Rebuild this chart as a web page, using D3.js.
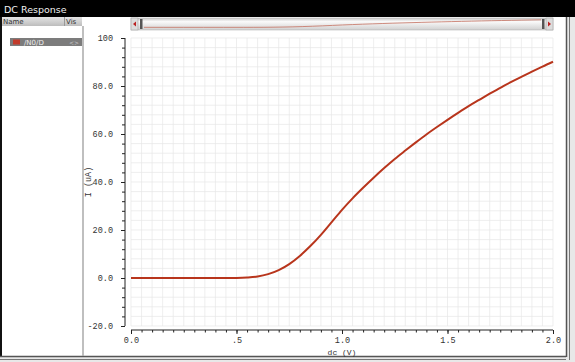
<!DOCTYPE html>
<meta charset="utf-8">
<style>
body { margin: 0; background: #fff; }
svg { display: block; }
.tick text { font-family: "Liberation Mono", "DejaVu Sans Mono", monospace; font-size: 8.5px; fill: #333; }
.axis path, .axis line { stroke: #222; }
.grid line { stroke: #e6e6e6; stroke-width: 0.7px; }
.grid path { display: none; }
</style>
<body>
<svg width="575" height="362" id="chart"></svg>
<script src="https://d3js.org/d3.v7.min.js"></script>
<script>

// (Vgs sweep, drain current)
var dcV = [0, 0.1, 0.2, 0.3, 0.4, 0.5, 0.55, 0.6, 0.65, 0.7, 0.75, 0.8, 0.85, 0.9, 0.95,
           1.0, 1.05, 1.1, 1.15, 1.2, 1.25, 1.3, 1.35, 1.4, 1.45, 1.5, 1.55, 1.6, 1.65,
           1.7, 1.75, 1.8, 1.85, 1.9, 1.95, 2.0];
var idUA = [0, 0, 0, 0, 0, 0.05, 0.2, 0.6, 1.6, 3.3, 5.8, 9.2, 13.3, 18, 23.2,
            28.4, 33.2, 37.6, 41.8, 45.8, 49.6, 53.1, 56.5, 59.8, 62.9, 65.9, 68.8, 71.6, 74.2,
            76.8, 79.2, 81.6, 83.8, 86, 88.1, 90.1];
var xTicks = [0, 0.5, 1.0, 1.5, 2.0];
var xTickLabels = ["0.0", ".5", "1.0", "1.5", "2.0"];
var yTicks = [-20, 0, 20, 40, 60, 80, 100];
var yTickLabels = ["-20.0", "0.0", "20.0", "40.0", "60.0", "80.0", "100"];
var traceName = "/N0/D";

var svg = d3.select("svg");

var x = d3.scaleLinear().domain([0, 2]).range([131, 553]);
var y = d3.scaleLinear().domain([-20, 100]).range([326, 38]);

// window frame
svg.append("rect").attr("x", 0).attr("y", 0).attr("width", 575).attr("height", 17).attr("fill", "#000");
svg.append("text").attr("x", 4).attr("y", 12.5)
    .attr("font-family", "DejaVu Sans, sans-serif").attr("font-size", 9.5).attr("fill", "#f2f2f2")
    .text("DC Response");
svg.append("rect").attr("x", 0).attr("y", 17).attr("width", 2).attr("height", 339).attr("fill", "#111");
svg.append("rect").attr("x", 0).attr("y", 356).attr("width", 575).attr("height", 6).attr("fill", "#e8e8e8");
svg.append("line").attr("x1", 0).attr("x2", 575).attr("y1", 356.5).attr("y2", 356.5).attr("stroke", "#555").attr("stroke-width", 1.5);
svg.append("line").attr("x1", 0).attr("x2", 575).attr("y1", 359.5).attr("y2", 359.5).attr("stroke", "#777");
svg.append("rect").attr("x", 566).attr("y", 17).attr("width", 9).attr("height", 345).attr("fill", "#e8e8e8");
svg.append("line").attr("x1", 566.5).attr("x2", 566.5).attr("y1", 17).attr("y2", 357).attr("stroke", "#555").attr("stroke-width", 1.5);
svg.append("line").attr("x1", 569.5).attr("x2", 569.5).attr("y1", 17).attr("y2", 360).attr("stroke", "#777");

// left panel
var grad = svg.append("defs").append("linearGradient").attr("id", "hdr").attr("x1", 0).attr("x2", 0).attr("y1", 0).attr("y2", 1);
grad.append("stop").attr("offset", 0).attr("stop-color", "#e4e4e4");
grad.append("stop").attr("offset", 1).attr("stop-color", "#bdbdbd");
svg.append("rect").attr("x", 2).attr("y", 17).attr("width", 80).attr("height", 9).attr("fill", "url(#hdr)");
svg.append("line").attr("x1", 64.5).attr("x2", 64.5).attr("y1", 17).attr("y2", 26).attr("stroke", "#999");
svg.append("text").attr("x", 3).attr("y", 24).attr("font-family", "DejaVu Sans, sans-serif").attr("font-size", 7).attr("fill", "#333").text("Name");
svg.append("text").attr("x", 66).attr("y", 24).attr("font-family", "DejaVu Sans, sans-serif").attr("font-size", 7).attr("fill", "#333").text("Vis");
svg.append("rect").attr("x", 10).attr("y", 38).attr("width", 72).attr("height", 8).attr("fill", "#7c7c7c");
svg.append("rect").attr("x", 13).attr("y", 39.5).attr("width", 7).attr("height", 5).attr("fill", "#c23a2a");
svg.append("text").attr("x", 24).attr("y", 45).attr("font-family", "DejaVu Sans, sans-serif").attr("font-size", 7).attr("fill", "#eee").text(traceName);
svg.append("text").attr("x", 69).attr("y", 45).attr("font-family", "DejaVu Sans, sans-serif").attr("font-size", 6).attr("fill", "#ccc").text("<>");
svg.append("line").attr("x1", 83).attr("x2", 83).attr("y1", 26).attr("y2", 356).attr("stroke", "#aaa").attr("stroke-width", 1.5);

// overview scroll bar
var sg = svg.append("defs").append("linearGradient").attr("id", "trk").attr("x1", 0).attr("x2", 0).attr("y1", 0).attr("y2", 1);
sg.append("stop").attr("offset", 0).attr("stop-color", "#c8c8c8");
sg.append("stop").attr("offset", 0.3).attr("stop-color", "#fafafa");
sg.append("stop").attr("offset", 1).attr("stop-color", "#d0d0d0");
svg.append("rect").attr("x", 131).attr("y", 18).attr("width", 422).attr("height", 12).attr("fill", "url(#trk)").attr("stroke", "#aaa").attr("stroke-width", 0.5);
var ox = d3.scaleLinear().domain([0, 2]).range([144, 541]);
var oy = d3.scaleLinear().domain([-20, 100]).range([29, 19]);
svg.append("path").datum(dcV)
    .attr("fill", "none").attr("stroke", "#c47060").attr("stroke-width", 0.8)
    .attr("d", d3.line().x(function(d) { return ox(d); }).y(function(d, i) { return oy(idUA[i]); }));
[131, 546].forEach(function(bx) {
    svg.append("rect").attr("x", bx).attr("y", 18).attr("width", 7).attr("height", 12).attr("fill", "#ddd").attr("stroke", "#999").attr("stroke-width", 0.5);
});
svg.append("path").attr("d", "M136,21.5 L133,24 L136,26.5 Z").attr("fill", "#b22");
svg.append("path").attr("d", "M548,21.5 L551,24 L548,26.5 Z").attr("fill", "#b22");
[140, 542].forEach(function(hx) {
    svg.append("rect").attr("x", hx).attr("y", 19).attr("width", 2.5).attr("height", 10).attr("fill", "#555");
});

// grid
var minorX = d3.range(0, 2.0001, 0.05);
var minorY = d3.range(-20, 100.0001, 4);
svg.append("g").attr("class", "grid")
    .selectAll("line").data(minorX).enter().append("line")
    .attr("x1", function(d) { return x(d); }).attr("x2", function(d) { return x(d); })
    .attr("y1", 38).attr("y2", 326);
svg.append("g").attr("class", "grid")
    .selectAll("line").data(minorY).enter().append("line")
    .attr("y1", function(d) { return y(d); }).attr("y2", function(d) { return y(d); })
    .attr("x1", 131).attr("x2", 553);

// axes
var yAxis = svg.append("g").attr("class", "axis").attr("transform", "translate(125,0)")
    .call(d3.axisLeft(y).tickValues(yTicks).tickSize(4).tickPadding(8)
        .tickFormat(function(d, i) { return yTickLabels[i]; }));
yAxis.select(".domain").attr("d", "M0," + y(-20) + "V" + y(100));
svg.append("g").attr("class", "axis").attr("transform", "translate(125,0)")
    .call(d3.axisLeft(y).tickValues(minorY).tickSize(3).tickFormat(""))
    .select(".domain").remove();

var xAxis = svg.append("g").attr("class", "axis").attr("transform", "translate(0,330)")
    .call(d3.axisBottom(x).tickValues(xTicks).tickSize(4).tickPadding(3)
        .tickFormat(function(d, i) { return xTickLabels[i]; }));
xAxis.select(".domain").attr("d", "M" + x(0) + ",0H" + x(2));
svg.append("g").attr("class", "axis").attr("transform", "translate(0,330)")
    .call(d3.axisBottom(x).tickValues(minorX).tickSize(2.5).tickFormat(""))
    .select(".domain").remove();

svg.append("text").attr("x", x(1)).attr("y", 354.5).attr("text-anchor", "middle")
    .attr("font-family", "Liberation Mono, monospace").attr("font-size", 8).attr("fill", "#333")
    .text("dc (V)");
svg.append("text").attr("transform", "translate(91," + y(40) + ") rotate(-90)").attr("text-anchor", "middle")
    .attr("font-family", "Liberation Mono, monospace").attr("font-size", 8.5).attr("fill", "#333")
    .text("I (uA)");

// trace
svg.append("path").datum(dcV)
    .attr("fill", "none").attr("stroke", "#b8351c").attr("stroke-width", 2)
    .attr("d", d3.line().curve(d3.curveMonotoneX)
        .x(function(d) { return x(d); })
        .y(function(d, i) { return y(idUA[i]); }));

</script>
</body>
